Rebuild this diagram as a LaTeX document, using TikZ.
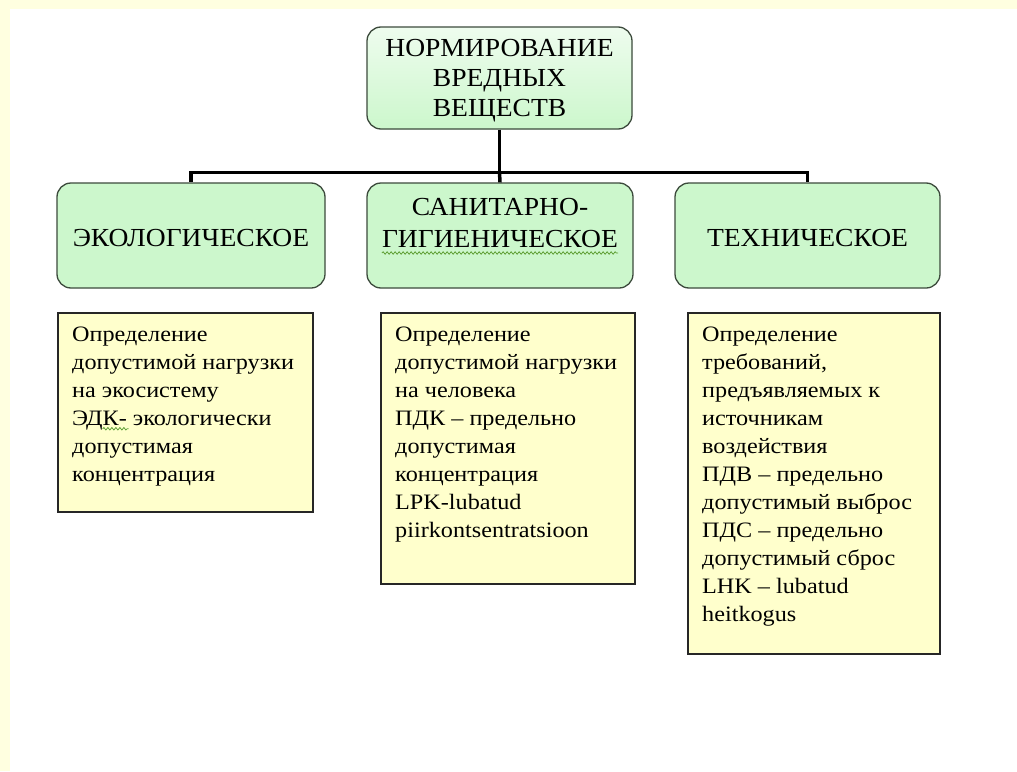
\documentclass[tikz,border=0pt]{standalone}
\usepackage{fontspec}
\setmainfont{Liberation Serif}
\newfontfamily\capsfont[FakeStretch=1.06]{Liberation Serif}
\newfontfamily\bodyfont[FakeStretch=1.1]{Liberation Serif}
\usetikzlibrary{calc,decorations.pathmorphing}
\definecolor{bgyellow}{HTML}{FFFFE0}
\definecolor{boxgreen}{HTML}{CCF7CC}
\definecolor{boxgreenlight}{HTML}{EEFCEE}
\definecolor{boxyellow}{HTML}{FFFFCC}
\definecolor{edgegray}{HTML}{3C4A3C}
\definecolor{wavegreen}{HTML}{5FA035}
\begin{document}
\begin{tikzpicture}[x=1pt,y=-1pt,
  gbox/.style={draw=edgegray, line width=1.3pt, fill=boxgreen, rounded corners=14pt,
    inner sep=0pt},
  gtext/.style={align=center, inner sep=0pt, font=\capsfont\fontsize{26}{30}\selectfont},
  ybox/.style={draw=black!85, line width=1.5pt, fill=boxyellow, inner sep=0pt, anchor=north west},
  ytext/.style={anchor=north west, align=left, inner sep=0pt, font=\bodyfont\fontsize{22}{28}\selectfont},
  conn/.style={line width=3.5pt, draw=black},
  wave/.style={draw=wavegreen, line width=0.8pt, decorate,
    decoration={snake, amplitude=1.2pt, segment length=4pt}}]
\useasboundingbox (0,0) rectangle (1017,771);
\fill[bgyellow] (0,0) rectangle (1017,771);
\fill[white] (10,9) rectangle (1017,771);

% top node
\node[gbox, minimum width=265, minimum height=102, top color=boxgreenlight, bottom color=boxgreen]
  (top) at (499.5,78) {};
\node[gtext] (toptext) at ($(top.center)+(0,3)$)
  {НОРМИРОВАНИЕ\\ВРЕДНЫХ\\ВЕЩЕСТВ};

% second row
\node[gbox, minimum width=268, minimum height=105] (eco) at (191,235.5) {};
\node[gtext] (ecotext) at ($(eco.center)+(0,3)$) {ЭКОЛОГИЧЕСКОЕ};
\node[gbox, minimum width=266, minimum height=105] (san) at (500,235.5) {};
\node[gtext, font=\capsfont\fontsize{26}{32}\selectfont] (santext)
  at ($(san.center)+(0,-12)$) {САНИТАРНО-\\ГИГИЕНИЧЕСКОЕ};
\node[gbox, minimum width=265, minimum height=105] (tech) at (807.5,235.5) {};
\node[gtext] (techtext) at ($(tech.center)+(0,3)$) {ТЕХНИЧЕСКОЕ};
\draw[wave] ($(santext.base west)+(0,5)$) -- ($(santext.base east)+(0,5)$);

% connectors
\draw[conn] (top.south) -- ++(0,43) coordinate (bus);
\draw[conn] (bus) -| (eco.north);
\draw[conn] (bus) -| (tech.north);
\draw[conn] (bus) -- (san.north);

% yellow boxes
\node[ybox, minimum width=255, minimum height=199] (y1) at (57,312) {};
\node[ytext] (t1) at ($(y1.north west)+(15,15)$)
  {Определение\\допустимой нагрузки\\на экосистему\\ЭД\tikz[overlay,baseline=0pt]\draw[wave] (0pt,-3pt) -- (26pt,-3pt);К- экологически\\допустимая\\концентрация};

\node[ybox, minimum width=254, minimum height=271] (y2) at (380,312) {};
\node[ytext] (t2) at ($(y2.north west)+(15,15)$)
  {Определение\\допустимой нагрузки\\на человека\\ПДК – предельно\\допустимая\\концентрация\\LPK-lubatud\\piirkontsentratsioon};

\node[ybox, minimum width=252, minimum height=341] (y3) at (687,312) {};
\node[ytext] (t3) at ($(y3.north west)+(15,15)$)
  {Определение\\требований,\\предъявляемых к\\источникам\\воздействия\\ПДВ – предельно\\допустимый выброс\\ПДС – предельно\\допустимый сброс\\LHK – lubatud\\heitkogus};
\end{tikzpicture}
\end{document}
